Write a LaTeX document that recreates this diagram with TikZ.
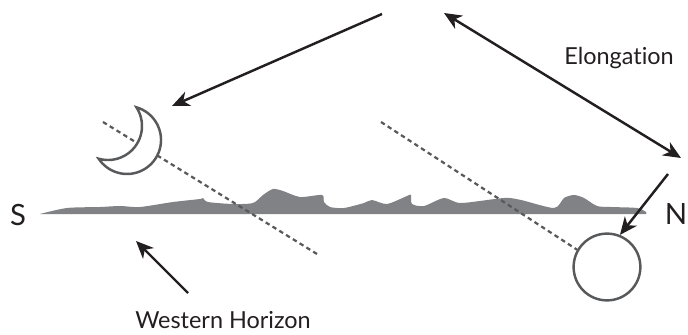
\documentclass[tikz,border=0pt]{standalone}
\usepackage{fontspec}
\setmainfont{Lato}[Ligatures=NoCommon]
\usetikzlibrary{arrows.meta}
\usetikzlibrary{positioning}
\definecolor{ink}{RGB}{35,31,32}
\definecolor{hill}{RGB}{128,130,133}
\definecolor{orb}{RGB}{88,89,91}

\tikzset{
  tip/.tip={Stealth[length=15pt,width=13pt,inset=4.5pt]},
  pointer/.style={draw=ink, line width=2.1pt, -tip},
  sightline/.style={draw=orb, line width=1.9pt, dash pattern=on 3.8pt off 3pt},
  caption/.style={font=\fontsize{20}{24}\selectfont, text=ink},
  compass/.style={font=\fontsize{25}{30}\selectfont, text=ink}
}

\begin{document}
\begin{tikzpicture}[x=0.03cm, y=-0.03cm]
	\useasboundingbox (0,0) rectangle (688,335);

	% hills along the horizon
	\fill[hill] plot[smooth, tension=0.45] coordinates {
		(40,214) (67,208) (100,207) (120,206) (140,207) (173,202) (200,199) (203,198)
		(208,202) (233,204) (253,203) (263,195) (273,189) (283,191) (300,197) (322,195)
		(324,202) (330,207) (344,208) (364,203) (372,200) (387,204) (407,196) (411,195)
		(412,204) (424,206) (444,198) (461,203) (504,198) (521,200) (554,208) (564,198)
		(574,195) (584,198) (597,206) (611,207) (637,208) (646,212) (646,214)} -- cycle;

	% compass points
	\node[compass] (south) at (18,215) {S};
	\node[compass] (north) at (676,214) {N};

	% lines of sight through moon and sun
	\coordinate (moonray) at (103,122);
	\coordinate (moonrayend) at (317,254);
	\coordinate (sunray) at (381,122);
	\draw[sightline] (moonray) -- (moonrayend);

	% sun below the horizon
	\node[circle, draw=orb, line width=2.1pt, minimum size=57pt, inner sep=0pt] (sun) at (607,267) {};
	\draw[sightline] (sunray) -- (sun.150);

	% crescent moon
	\coordinate (moontop) at (136.4,107.3);
	\filldraw[fill=white, draw=orb, line width=2.1pt, line join=miter]
		(moontop) arc[start angle=-74, end angle=146.6, radius=34]
		arc[start angle=106, end angle=-33.4, radius=34] -- cycle;

	% arrows
	\coordinate (top) at (382,14);
	\coordinate (moontip) at (172,106);
	\coordinate (elongA) at (444,13);
	\coordinate (elongB) at (681,158);
	\coordinate (northtail) at (668,174);
	\coordinate (westtail) at (188,293);
	\coordinate (westtip) at (136,241);
	\draw[pointer] (top) -- (moontip);
	\draw[pointer, tip-tip] (elongA) -- (elongB);
	\draw[pointer] (northtail) -- (sun.68);
	\draw[pointer] (westtail) -- (westtip);

	% labels
	\node[caption] (elong) at (619,58) {Elongation};
	\node[caption] (west) at (223,320) {Western Horizon};
\end{tikzpicture}
\end{document}
